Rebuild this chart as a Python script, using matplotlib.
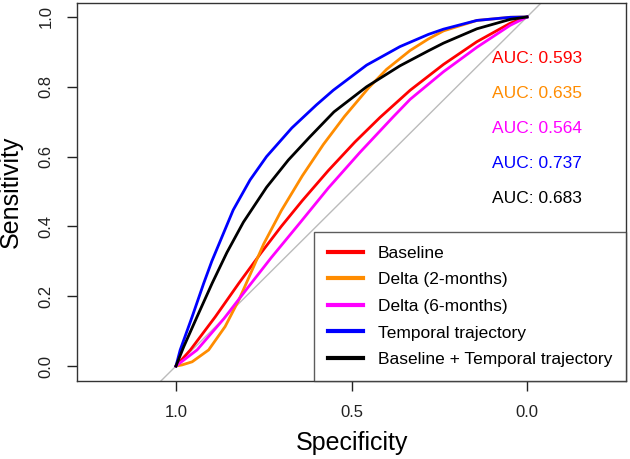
import matplotlib
matplotlib.use("Agg")
import matplotlib.pyplot as plt

plt.rcParams["font.family"] = ["Liberation Sans", "DejaVu Sans"]

# ROC curves: (specificity, sensitivity)
baseline_spec = [1.0, 0.959, 0.888, 0.821, 0.757, 0.700, 0.640, 0.566, 0.490, 0.419,
                 0.333, 0.238, 0.143, 0.048, 0.0]
baseline_sens = [0.0, 0.046, 0.141, 0.237, 0.325, 0.400, 0.474, 0.560, 0.642, 0.712,
                 0.790, 0.864, 0.929, 0.982, 1.0]

delta2_spec = [1.0, 0.983, 0.954, 0.907, 0.860, 0.821, 0.783, 0.750, 0.700, 0.640,
               0.580, 0.520, 0.452, 0.400, 0.333, 0.281, 0.238, 0.143, 0.048, 0.0]
delta2_sens = [0.0, 0.003, 0.012, 0.046, 0.113, 0.189, 0.275, 0.350, 0.445, 0.545,
               0.635, 0.715, 0.796, 0.850, 0.904, 0.937, 0.960, 0.990, 0.999, 1.0]

delta6_spec = [1.0, 0.940, 0.864, 0.795, 0.729, 0.647, 0.566, 0.476, 0.381, 0.333,
               0.238, 0.143, 0.048, 0.0]
delta6_sens = [0.0, 0.046, 0.135, 0.225, 0.310, 0.410, 0.510, 0.612, 0.714, 0.764,
               0.843, 0.913, 0.976, 1.0]

temporal_spec = [1.0, 0.988, 0.954, 0.921, 0.898, 0.837, 0.789, 0.742, 0.670, 0.600,
                 0.552, 0.457, 0.362, 0.281, 0.238, 0.143, 0.048, 0.0]
temporal_sens = [0.0, 0.046, 0.141, 0.237, 0.300, 0.447, 0.533, 0.600, 0.682, 0.748,
                 0.790, 0.862, 0.915, 0.950, 0.965, 0.990, 0.999, 1.0]

combined_spec = [1.0, 0.978, 0.940, 0.897, 0.855, 0.808, 0.742, 0.680, 0.620, 0.550,
                 0.457, 0.362, 0.281, 0.238, 0.143, 0.048, 0.0]
combined_sens = [0.0, 0.055, 0.141, 0.237, 0.325, 0.412, 0.512, 0.590, 0.655, 0.728,
                 0.800, 0.860, 0.903, 0.925, 0.966, 0.993, 1.0]

labels = ["Baseline", "Delta (2-months)", "Delta (6-months)",
          "Temporal trajectory", "Baseline + Temporal trajectory"]
colors = ["#FF0000", "#FF8C00", "#FF00FF", "#0000FF", "#000000"]
auc_values = [0.593, 0.635, 0.564, 0.737, 0.683]

curves = [
    (baseline_spec, baseline_sens),
    (delta2_spec, delta2_sens),
    (delta6_spec, delta6_sens),
    (temporal_spec, temporal_sens),
    (combined_spec, combined_sens),
]

fig = plt.figure(figsize=(6.3, 4.59), dpi=100)
ax = fig.add_axes([0.1222, 0.1699, 0.8715, 0.8236])

# chance line
ax.axline((1, 0), (0, 1), color="#BBBBBB", lw=1, zorder=1)

for (spec, sens), col in zip(curves, colors):
    ax.plot(spec, sens, color=col, lw=2, zorder=2)

for i, (auc, col) in enumerate(zip(auc_values, colors)):
    ax.text(0.1, 0.88 - 0.1 * i, f"AUC: {auc:.3f}", color=col,
            fontsize=12.5, ha="left", va="center")

ax.set_xlim(1.282, -0.282)
ax.set_ylim(-0.043, 1.04)
ax.set_xticks([1.0, 0.5, 0.0])
ax.set_xticklabels(["1.0", "0.5", "0.0"])
ax.set_yticks([0.0, 0.2, 0.4, 0.6, 0.8, 1.0])
ax.set_yticklabels(["0.0", "0.2", "0.4", "0.6", "0.8", "1.0"],
                   rotation=90, va="center")
ax.tick_params(length=7, width=1, pad=10, labelsize=12,
               colors="#222222", direction="out")

for sp in ax.spines.values():
    sp.set_color("#333333")
    sp.set_linewidth(1)

ax.set_xlabel("Specificity", fontsize=18)
ax.set_ylabel("Sensitivity", fontsize=18)
ax.xaxis.set_label_coords(0.5, -0.133)
ax.yaxis.set_label_coords(-0.098, 0.5)

handles = [plt.Line2D([], [], color=c, lw=3) for c in colors]
leg = ax.legend(handles, labels, loc="lower right", fontsize=12.5,
                frameon=True, fancybox=False, borderaxespad=0,
                handlelength=2.0, handletextpad=0.85, labelspacing=0.66,
                borderpad=0.8)
leg.get_frame().set_edgecolor("#333333")
leg.get_frame().set_linewidth(1)

fig.savefig("out.png", dpi=100)
